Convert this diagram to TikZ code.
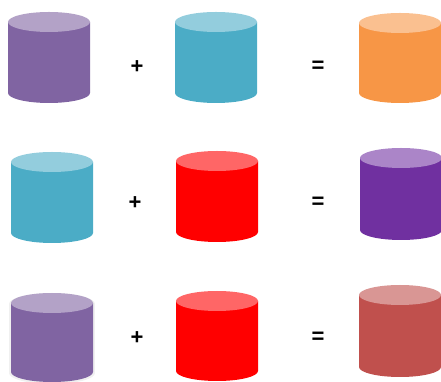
\documentclass[tikz,border=0pt]{standalone}
\usepackage{fontspec}
\setmainfont{Liberation Sans}
\definecolor{purB}{HTML}{8064A2}\definecolor{purT}{HTML}{B3A2C7}
\definecolor{bluB}{HTML}{4BACC6}\definecolor{bluT}{HTML}{93CDDD}
\definecolor{oraB}{HTML}{F79646}\definecolor{oraT}{HTML}{FAC090}
\definecolor{redB}{HTML}{FF0000}\definecolor{redT}{HTML}{FF6666}
\definecolor{vioB}{HTML}{7030A0}\definecolor{vioT}{HTML}{AB85C8}
\definecolor{rosB}{HTML}{C0504D}\definecolor{rosT}{HTML}{D99694}
\newcommand{\mycyl}[5]{% cx, top center y (px), bottom center y (px), body, top
  \fill[#4] ({#1-41},{382-#2}) -- ({#1-41},{382-#3}) arc[start angle=180,end angle=360,x radius=41,y radius=10] -- ({#1+41},{382-#2}) -- cycle;
  \fill[#5] (#1,{382-#2}) ellipse[x radius=41,y radius=10];
}
\tikzset{op/.style={font=\fontsize{22}{22}\selectfont\bfseries, inner sep=0pt}}
\begin{document}
\begin{tikzpicture}[x=1pt,y=1pt]
\useasboundingbox (0,0) rectangle (441,382);
% row 1
\mycyl{49}{22}{93}{purB}{purT}
\mycyl{216}{22}{93}{bluB}{bluT}
\mycyl{400}{23}{93}{oraB}{oraT}
\node[op] (p1) at (137,{382-67}) {+};
\node[op] (e1) at (318,{382-67}) {=};
% row 2
\mycyl{52}{162}{233}{bluB}{bluT}
\mycyl{217}{161}{232}{redB}{redT}
\mycyl{401}{158}{230}{vioB}{vioT}
\node[op] (p2) at (135,{382-203}) {+};
\node[op] (e2) at (318,{382-203}) {=};
% row 3
\fill[black!6] (52,{382-304}) ellipse[x radius=43,y radius=11];
\fill[black!6] (9,{382-304}) rectangle (95,{382-372});
\fill[black!6] (52,{382-373}) ellipse[x radius=43,y radius=11];
\mycyl{52}{303}{372}{purB}{purT}
\mycyl{217}{301}{371}{redB}{redT}
\mycyl{400}{295}{367}{rosB}{rosT}
\node[op] (p3) at (137,{382-338}) {+};
\node[op] (e3) at (318,{382-338}) {=};
\end{tikzpicture}
\end{document}
